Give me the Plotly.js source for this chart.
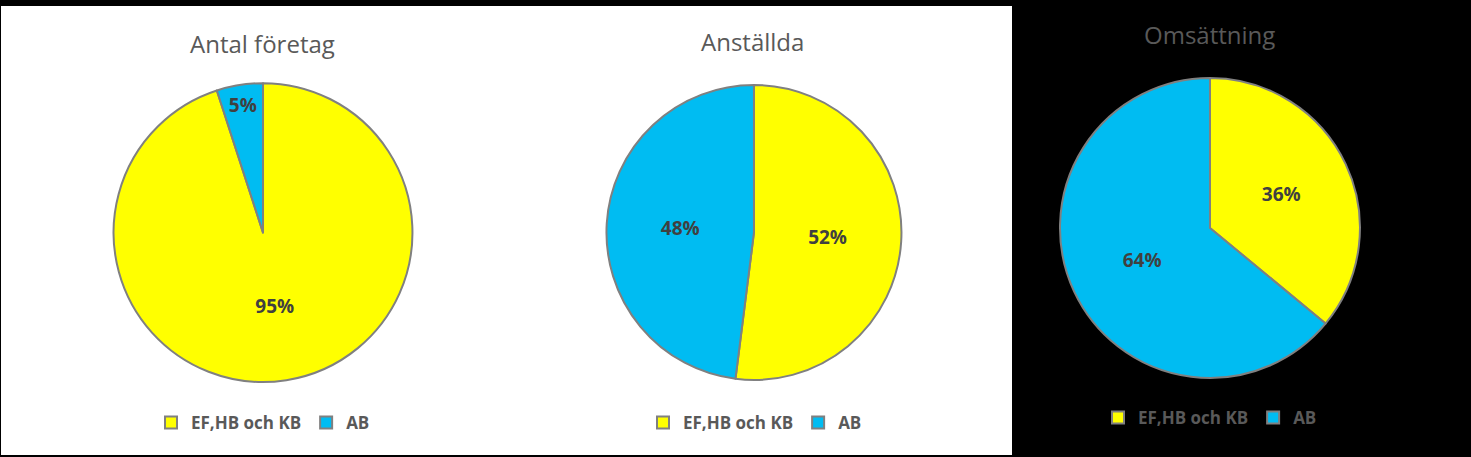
<!DOCTYPE html>
<html>
<head>
<meta charset="utf-8">
<script src="https://cdn.plot.ly/plotly-3.0.1.min.js"></script>
<style>html,body{margin:0;padding:0;background:#000;}#chart{width:1471px;height:457px;}</style>
</head>
<body>
<div id="chart"></div>
<script>
const categories = ["EF,HB och KB", "AB"];
const titles = ["Antal företag", "Anställda", "Omsättning"];
const antalForetag = [95, 5];
const anstallda = [52, 48];
const omsattning = [36, 64];
const seriesValues = [antalForetag, anstallda, omsattning];

const colors = ["#FFFF00", "#00BCF2"];
const domains = [
  {x: [0.0768, 0.2808], y: [0.164, 0.818]},
  {x: [0.4092, 0.6159], y: [0.1685, 0.814]},
  {x: [0.7206, 0.9245], y: [0.1729, 0.8293]}
];
const legendNames = ["legend", "legend2", "legend3"];
const FONT = "'Open Sans', Lato, sans-serif";

// each pie gets its own legend; invisible zero-width suffix keeps the labels distinct per pie
const traces = seriesValues.map((vals, i) => ({
  type: "pie",
  labels: categories.map(c => c + "\u200b".repeat(i)),
  values: vals,
  sort: false,
  direction: "clockwise",
  rotation: 0,
  domain: domains[i],
  marker: {colors: colors, line: {color: "#808080", width: 2}},
  texttemplate: "%{percent:.0%}",
  textposition: "inside",
  insidetextorientation: "horizontal",
  textfont: {family: FONT, size: 19, color: "#404040", weight: "bold"},
  hoverinfo: "label+percent",
  legend: legendNames[i],
  showlegend: true
}));

const legendFont = {family: FONT, size: 17, color: "#595959", weight: "bold"};
const legendBase = {orientation: "h", xanchor: "center", yanchor: "middle", bgcolor: "rgba(0,0,0,0)", font: legendFont, itemwidth: 30, traceorder: "normal"};

const titleFont = {family: FONT, size: 24, color: "#595959"};
const layout = {
  width: 1471,
  height: 457,
  margin: {l: 0, r: 0, t: 0, b: 0},
  paper_bgcolor: "#000000",
  plot_bgcolor: "#000000",
  shapes: [
    {type: "rect", xref: "paper", yref: "paper", x0: 1/1471, x1: 1012/1471, y0: 1 - 455/457, y1: 1 - 6/457,
     fillcolor: "#FFFFFF", line: {width: 0}, layer: "below"}
  ],
  annotations: [
    {text: titles[0], x: 262/1471, y: 1 - 44/457, xref: "paper", yref: "paper", showarrow: false, xanchor: "center", yanchor: "middle", font: titleFont},
    {text: titles[1], x: 752/1471, y: 1 - 42/457, xref: "paper", yref: "paper", showarrow: false, xanchor: "center", yanchor: "middle", font: titleFont},
    {text: titles[2], x: 1209/1471, y: 1 - 35/457, xref: "paper", yref: "paper", showarrow: false, xanchor: "center", yanchor: "middle", font: titleFont}
  ],
  legend: Object.assign({}, legendBase, {x: 263/1471, y: 1 - 423/457}),
  legend2: Object.assign({}, legendBase, {x: 755/1471, y: 1 - 423/457}),
  legend3: Object.assign({}, legendBase, {x: 1210/1471, y: 1 - 418/457})
};

Plotly.newPlot("chart", traces, layout, {displayModeBar: false, staticPlot: true});
</script>
</body>
</html>
